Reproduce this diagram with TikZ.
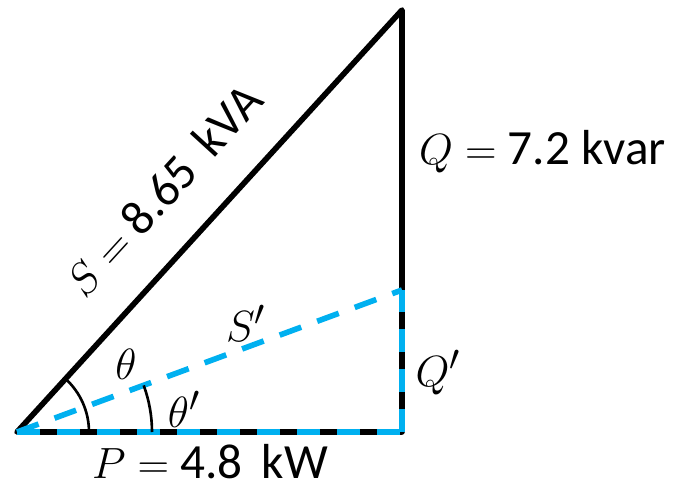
\documentclass[tikz,border=0pt]{standalone}
\usepackage{fontspec}
\setmainfont{Carlito}
\usepackage{tikz}
\usetikzlibrary{positioning,calc}
\definecolor{pqblue}{RGB}{0,176,240}
\tikzset{
  side/.style={line width=3.2pt, black},
  dashside/.style={line width=3.2pt, pqblue, dash pattern=on 0.46cm off 0.34cm},
  anglearc/.style={line width=1.5pt, black},
  lbl/.style={font=\fontsize{28}{32}\selectfont, inner sep=1pt}
}
\begin{document}
\begin{tikzpicture}[x=0.02cm, y=-0.02cm]
  \useasboundingbox (0,0) rectangle (675,489);
  \coordinate (A) at (17,432);
  \coordinate (B) at (402,432);
  \coordinate (C) at (402,10);
  \coordinate (D) at (402,290);

  % triangle
  \draw[side, line join=round] (A) -- (B) -- (C) -- cycle;
  % new triangle
  \draw[dashside] (A) -- (B);
  \draw[dashside] (B) -- (D);
  \draw[dashside] (A) -- (D);

  % angles
  \draw[anglearc] ($(A)+(72,0)$) arc[start angle=0, end angle=47.6, radius=1.44cm];
  \draw[anglearc] ($(A)+(135,0)$) arc[start angle=0, end angle=20.2, radius=2.7cm];

  \node[lbl] (theta) at (126,364) {$\theta$};
  \node[lbl] (thetap) at (184,409) {$\theta'$};
  \node[lbl] (sp) at (246,323) {$S'$};
  \node[lbl] (qp) at (438,373) {$Q'$};
  \node[lbl, anchor=west] (q) at (417,152) {$Q=$ 7.2 kvar};
  \node[lbl] (p) at (210,462) {$P=$ 4.8\, kW};
  \node[lbl, rotate=47.6] (s) at (163,190) {$S=$ 8.65\, kVA};
\end{tikzpicture}
\end{document}
